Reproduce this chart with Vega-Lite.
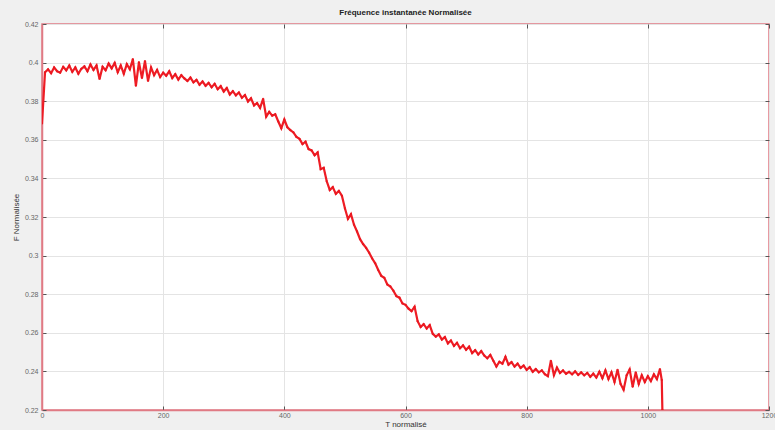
{
  "$schema": "https://vega.github.io/schema/vega-lite/v6.json",
  "width": 727,
  "height": 386,
  "autosize": {"type": "none"},
  "padding": {"left": 42, "top": 24, "right": 6, "bottom": 20},
  "background": "#f0f0f0",
  "config": {
    "font": "Liberation Sans",
    "view": {"fill": "white", "stroke": "#e07a84", "strokeWidth": 1.5}
  },
  "title": {
    "text": "Fréquence instantanée Normalisée",
    "fontSize": 8,
    "fontWeight": "bold",
    "color": "#222222",
    "offset": 3
  },
  "data": {
    "values": [
      {"t":0,"f":0.3685},{"t":5,"f":0.3950},{"t":10,"f":0.3965},{"t":15,"f":0.3945},{"t":20,"f":0.3975},{"t":25,"f":0.3955},{"t":30,"f":0.3948},{"t":35,"f":0.3978},{"t":40,"f":0.3960},{"t":45,"f":0.3985},
      {"t":50,"f":0.3952},{"t":55,"f":0.3975},{"t":60,"f":0.3942},{"t":65,"f":0.3968},{"t":70,"f":0.3980},{"t":75,"f":0.3955},{"t":80,"f":0.3990},{"t":85,"f":0.3962},{"t":90,"f":0.3985},{"t":95,"f":0.3915},
      {"t":100,"f":0.3978},{"t":105,"f":0.3960},{"t":110,"f":0.3995},{"t":115,"f":0.3970},{"t":120,"f":0.3998},{"t":125,"f":0.3950},{"t":130,"f":0.3985},{"t":135,"f":0.3942},{"t":140,"f":0.3992},{"t":145,"f":0.3965},
      {"t":150,"f":0.4018},{"t":155,"f":0.3880},{"t":160,"f":0.4002},{"t":165,"f":0.3920},{"t":170,"f":0.4008},{"t":175,"f":0.3905},{"t":180,"f":0.3975},{"t":185,"f":0.3935},{"t":190,"f":0.3962},{"t":195,"f":0.3925},
      {"t":200,"f":0.3948},{"t":205,"f":0.3932},{"t":210,"f":0.3955},{"t":215,"f":0.3920},{"t":220,"f":0.3940},{"t":225,"f":0.3912},{"t":230,"f":0.3935},{"t":235,"f":0.3918},{"t":240,"f":0.3905},{"t":245,"f":0.3922},
      {"t":250,"f":0.3898},{"t":255,"f":0.3910},{"t":260,"f":0.3885},{"t":265,"f":0.3902},{"t":270,"f":0.3880},{"t":275,"f":0.3895},{"t":280,"f":0.3872},{"t":285,"f":0.3890},{"t":290,"f":0.3862},{"t":295,"f":0.3878},
      {"t":300,"f":0.3850},{"t":305,"f":0.3868},{"t":310,"f":0.3835},{"t":315,"f":0.3852},{"t":320,"f":0.3830},{"t":325,"f":0.3845},{"t":330,"f":0.3818},{"t":335,"f":0.3832},{"t":340,"f":0.3798},{"t":345,"f":0.3815},
      {"t":350,"f":0.3778},{"t":355,"f":0.3790},{"t":360,"f":0.3765},{"t":365,"f":0.3812},{"t":370,"f":0.3720},{"t":375,"f":0.3745},{"t":380,"f":0.3725},{"t":385,"f":0.3732},{"t":390,"f":0.3695},{"t":395,"f":0.3660},
      {"t":400,"f":0.3705},{"t":405,"f":0.3665},{"t":410,"f":0.3650},{"t":415,"f":0.3638},{"t":420,"f":0.3615},{"t":425,"f":0.3605},{"t":430,"f":0.3578},{"t":435,"f":0.3590},{"t":440,"f":0.3552},{"t":445,"f":0.3545},
      {"t":450,"f":0.3520},{"t":455,"f":0.3535},{"t":460,"f":0.3448},{"t":465,"f":0.3455},{"t":470,"f":0.3385},{"t":475,"f":0.3340},{"t":480,"f":0.3355},{"t":485,"f":0.3320},{"t":490,"f":0.3335},{"t":495,"f":0.3310},
      {"t":500,"f":0.3245},{"t":505,"f":0.3190},{"t":510,"f":0.3215},{"t":515,"f":0.3160},{"t":520,"f":0.3125},{"t":525,"f":0.3085},{"t":530,"f":0.3060},{"t":535,"f":0.3040},{"t":540,"f":0.3015},{"t":545,"f":0.2985},
      {"t":550,"f":0.2960},{"t":555,"f":0.2925},{"t":560,"f":0.2895},{"t":565,"f":0.2885},{"t":570,"f":0.2850},{"t":575,"f":0.2840},{"t":580,"f":0.2818},{"t":585,"f":0.2790},{"t":590,"f":0.2782},{"t":595,"f":0.2752},
      {"t":600,"f":0.2745},{"t":605,"f":0.2725},{"t":610,"f":0.2712},{"t":615,"f":0.2735},{"t":620,"f":0.2660},{"t":625,"f":0.2630},{"t":630,"f":0.2645},{"t":635,"f":0.2622},{"t":640,"f":0.2640},{"t":645,"f":0.2595},
      {"t":650,"f":0.2580},{"t":655,"f":0.2592},{"t":660,"f":0.2565},{"t":665,"f":0.2578},{"t":670,"f":0.2545},{"t":675,"f":0.2560},{"t":680,"f":0.2532},{"t":685,"f":0.2548},{"t":690,"f":0.2520},{"t":695,"f":0.2535},
      {"t":700,"f":0.2512},{"t":705,"f":0.2528},{"t":710,"f":0.2495},{"t":715,"f":0.2510},{"t":720,"f":0.2488},{"t":725,"f":0.2505},{"t":730,"f":0.2482},{"t":735,"f":0.2468},{"t":740,"f":0.2485},{"t":745,"f":0.2455},
      {"t":750,"f":0.2425},{"t":755,"f":0.2450},{"t":760,"f":0.2440},{"t":765,"f":0.2475},{"t":770,"f":0.2435},{"t":775,"f":0.2448},{"t":780,"f":0.2425},{"t":785,"f":0.2440},{"t":790,"f":0.2418},{"t":795,"f":0.2430},
      {"t":800,"f":0.2408},{"t":805,"f":0.2422},{"t":810,"f":0.2398},{"t":815,"f":0.2412},{"t":820,"f":0.2395},{"t":825,"f":0.2405},{"t":830,"f":0.2385},{"t":835,"f":0.2375},{"t":840,"f":0.2455},{"t":845,"f":0.2380},
      {"t":850,"f":0.2420},{"t":855,"f":0.2392},{"t":860,"f":0.2405},{"t":865,"f":0.2388},{"t":870,"f":0.2398},{"t":875,"f":0.2385},{"t":880,"f":0.2400},{"t":885,"f":0.2382},{"t":890,"f":0.2395},{"t":895,"f":0.2380},
      {"t":900,"f":0.2392},{"t":905,"f":0.2372},{"t":910,"f":0.2388},{"t":915,"f":0.2368},{"t":920,"f":0.2398},{"t":925,"f":0.2365},{"t":930,"f":0.2405},{"t":935,"f":0.2360},{"t":940,"f":0.2395},{"t":945,"f":0.2345},
      {"t":950,"f":0.2408},{"t":955,"f":0.2335},{"t":960,"f":0.2305},{"t":965,"f":0.2380},{"t":970,"f":0.2410},{"t":975,"f":0.2320},{"t":980,"f":0.2395},{"t":985,"f":0.2335},{"t":990,"f":0.2380},{"t":995,"f":0.2345},
      {"t":1000,"f":0.2375},{"t":1005,"f":0.2350},{"t":1010,"f":0.2385},{"t":1015,"f":0.2360},{"t":1020,"f":0.2412},{"t":1023,"f":0.2355},{"t":1024,"f":0.2200}
    ]
  },
  "resolve": {"axis": {"x": "independent", "y": "independent"}},
  "layer": [
    {
      "mark": {"type": "line", "color": "#ee1c24", "strokeWidth": 2.2, "clip": true},
      "encoding": {
        "x": {
          "field": "t", "type": "quantitative",
          "scale": {"domain": [0, 1200], "nice": false, "zero": false},
          "axis": {
            "values": [0, 200, 400, 600, 800, 1000, 1200],
            "format": "d",
            "title": "T normalisé", "titleFontSize": 8, "titleFontWeight": "normal", "titleColor": "#333333", "titlePadding": 2,
            "labelFontSize": 7, "labelColor": "#666666", "labelPadding": 5,
            "tickSize": -4, "tickColor": "#555555",
            "domainColor": "#e07a84", "domainWidth": 1.5,
            "grid": true, "gridColor": "#e4e4e4",
            "labelFlush": false
          }
        },
        "y": {
          "field": "f", "type": "quantitative",
          "scale": {"domain": [0.22, 0.42], "nice": false, "zero": false},
          "axis": {
            "values": [0.22, 0.24, 0.26, 0.28, 0.3, 0.32, 0.34, 0.36, 0.38, 0.4, 0.42],
            "format": "~g",
            "title": "F Normalisée", "titleFontSize": 8, "titleFontWeight": "normal", "titleColor": "#333333", "titlePadding": 4,
            "labelFontSize": 7, "labelColor": "#666666", "labelPadding": 8,
            "tickSize": -4, "tickColor": "#555555",
            "domainColor": "#e07a84", "domainWidth": 1.5,
            "grid": true, "gridColor": "#e4e4e4",
            "labelFlush": false
          }
        }
      }
    },
    {
      "mark": {"type": "point", "color": "#e8161e", "filled": true, "size": 5, "opacity": 0.9, "clip": true},
      "encoding": {
        "x": {
          "field": "t", "type": "quantitative",
          "axis": {"orient": "top", "values": [0, 200, 400, 600, 800, 1000, 1200], "labels": false, "title": null, "grid": false, "domain": false, "tickSize": -4, "tickColor": "#555555"}
        },
        "y": {
          "field": "f", "type": "quantitative",
          "axis": {"orient": "right", "values": [0.22, 0.24, 0.26, 0.28, 0.3, 0.32, 0.34, 0.36, 0.38, 0.4, 0.42], "labels": false, "title": null, "grid": false, "domain": false, "tickSize": -4, "tickColor": "#555555"}
        }
      }
    }
  ]
}
